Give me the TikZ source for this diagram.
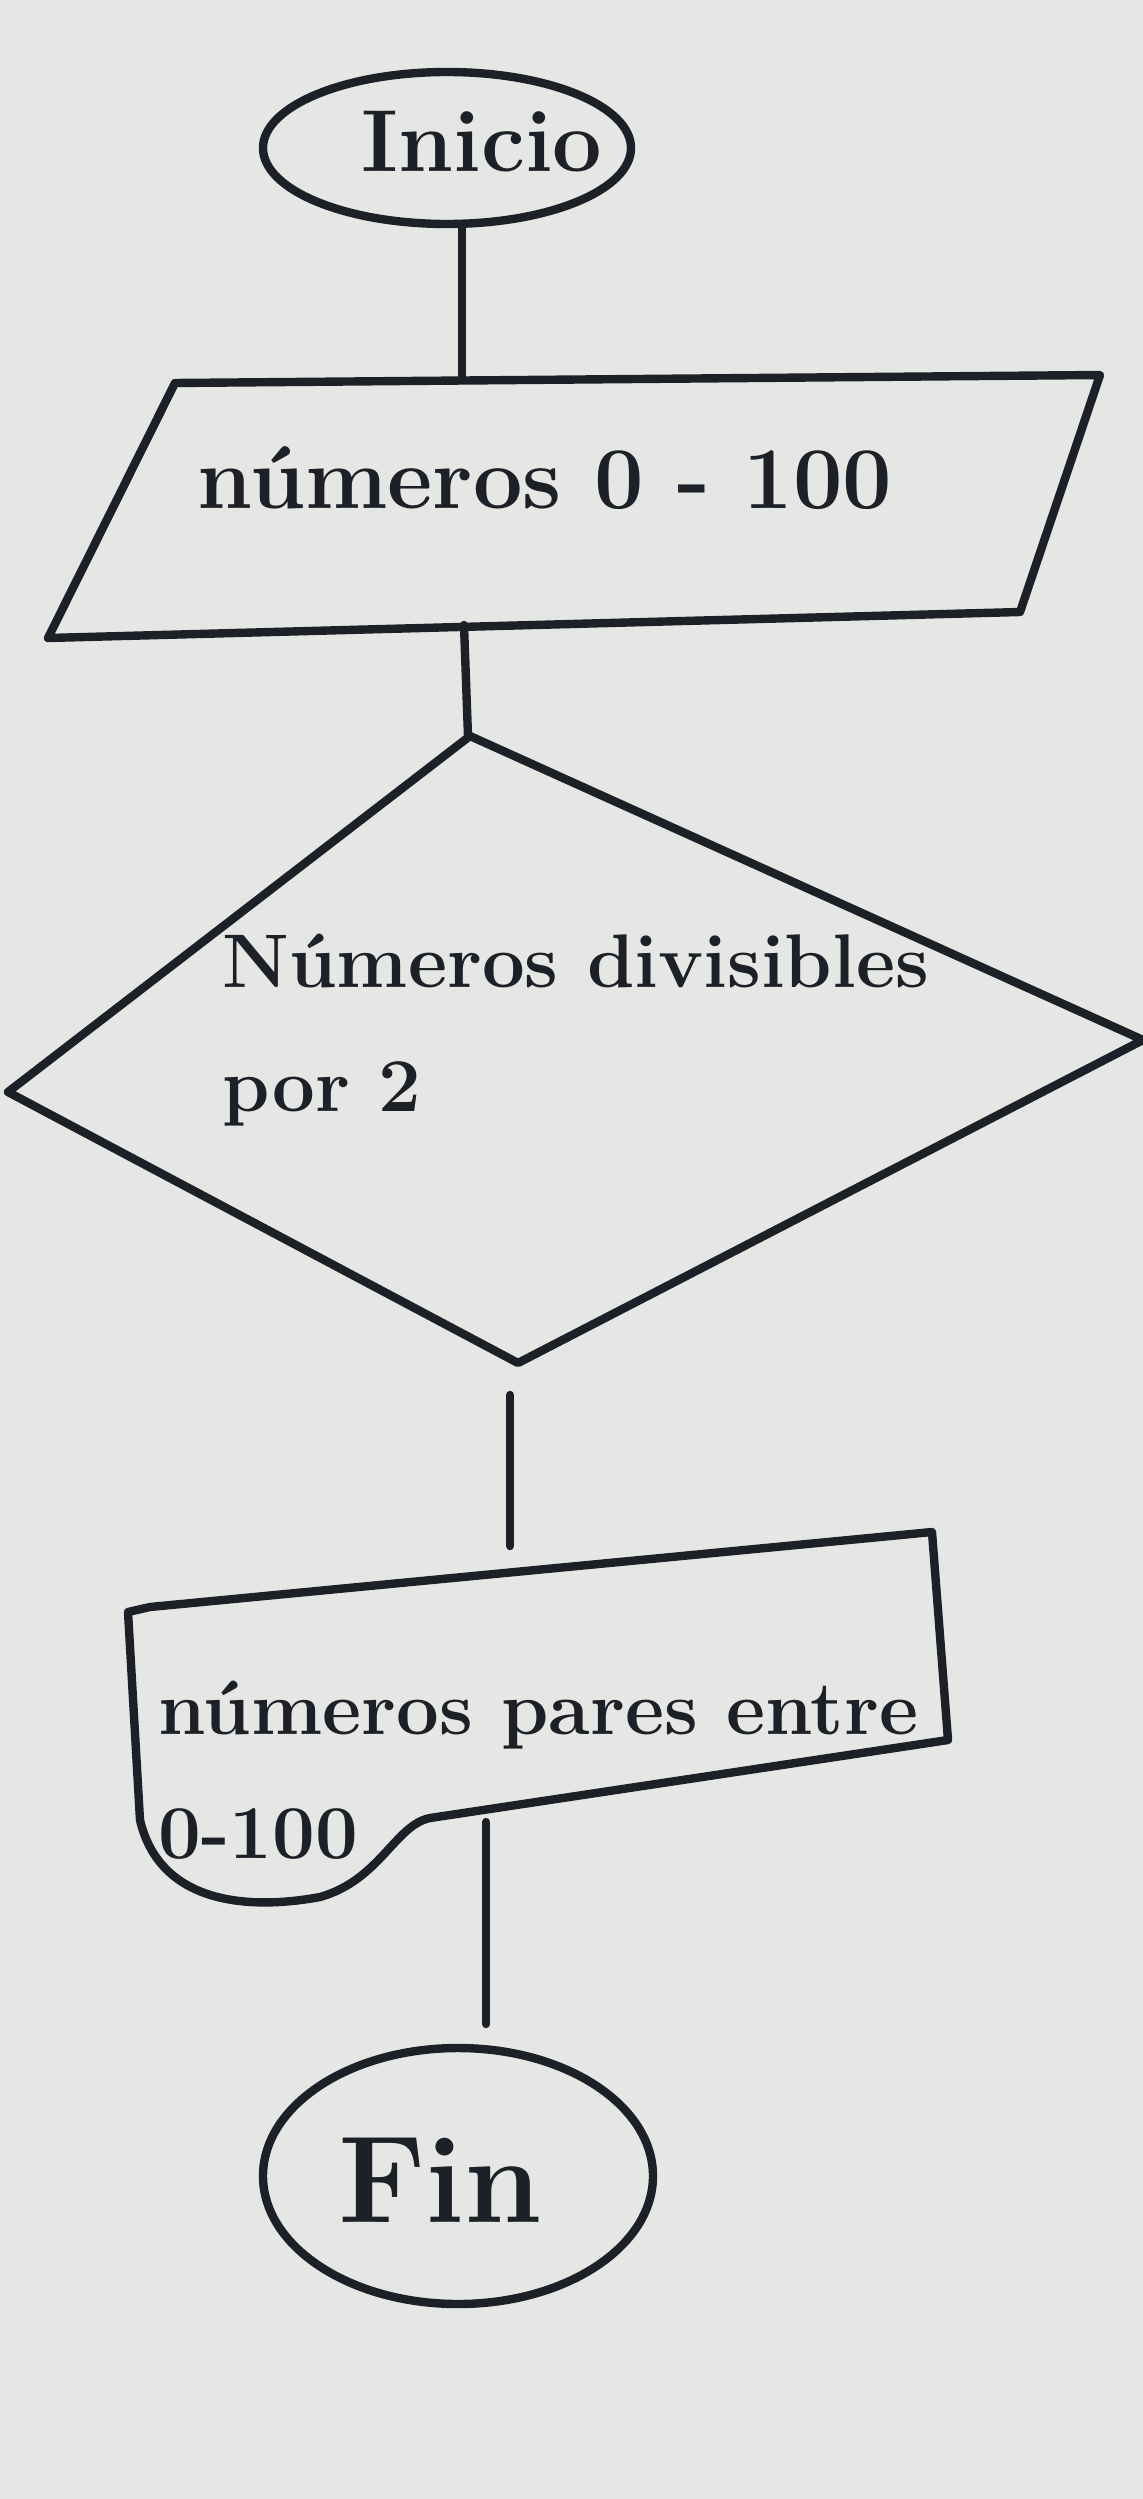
\documentclass[tikz,border=0pt]{standalone}
\usepackage{fontspec}
\definecolor{paper}{RGB}{230,231,229}
\definecolor{ink}{RGB}{28,33,40}
\begin{document}
\begin{tikzpicture}[x=0.5pt,y=-0.5pt,
  pen/.style={draw=ink,line width=4.2pt,line cap=round,line join=round},
  lbl/.style={text=ink,inner sep=0pt,font=\bfseries\fontsize{38}{62}\selectfont,align=left},
  conn/.style={pen}]
\fill[paper] (0,0) rectangle (1143,2499);
\useasboundingbox (0,0) rectangle (1143,2499);
% Inicio
\draw[pen] (447,148) ellipse [x radius=184, y radius=76];
\node[lbl,font=\bfseries\fontsize{44}{48}\selectfont] (inicio) at (482,142) {Inicio};
\coordinate (inicioB) at (462,224);
\coordinate (parT) at (462,378);
\draw[conn] (inicioB) -- (parT);
% parallelogram
\draw[pen] (175,383) -- (1100,375) -- (1020,612) -- (48,638) -- cycle;
\node[lbl,font=\bfseries\fontsize{44}{50}\selectfont] (entrada) at (545,478) {números 0 - 100};
\coordinate (parB) at (464,625);
\coordinate (diaT) at (468,736);
\draw[conn] (parB) -- (diaT);
% diamond
\draw[pen] (470,736) -- (1143,1040) -- (518,1363) -- (8,1092) -- cycle;
\node[lbl,anchor=west] (decision) at (222,1030) {Números divisibles\\por 2};
\coordinate (diaB) at (510,1395);
\coordinate (docT) at (510,1546);
\draw[conn] (diaB) -- (docT);
% document shape
\draw[pen] (932,1532) -- (948,1740) -- (430,1818)
  .. controls (395,1825) and (380,1880) .. (320,1897)
  .. controls (250,1910) and (160,1905) .. (140,1820)
  -- (128,1612) -- (150,1607) -- cycle;
\node[lbl,anchor=west] (salida) at (158,1770) {números pares entre\\0-100};
\coordinate (docB) at (486,1822);
\coordinate (finT) at (486,2024);
\draw[conn] (docB) -- (finT);
% Fin
\draw[pen] (458,2176) ellipse [x radius=195, y radius=128];
\node[lbl,font=\bfseries\fontsize{62}{66}\selectfont] (fin) at (440,2180) {Fin};
\end{tikzpicture}
\end{document}
